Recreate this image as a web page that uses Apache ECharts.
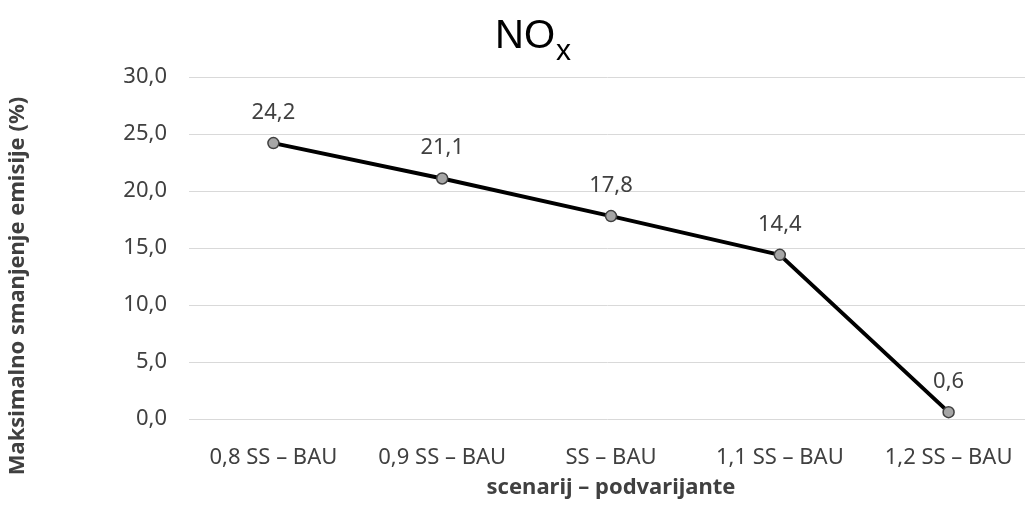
<!DOCTYPE html>
<html>
<head>
<meta charset="utf-8">
<script src="https://cdn.jsdelivr.net/npm/echarts@6/dist/echarts.min.js"></script>
<style>
  html, body { margin: 0; padding: 0; background: #fff; }
  #chart { width: 1025px; height: 509px; }
</style>
</head>
<body>
<div id="chart"></div>
<script>
var categories = ['0,8 SS – BAU', '0,9 SS – BAU', 'SS – BAU', '1,1 SS – BAU', '1,2 SS – BAU']
var noxValues = [24.2, 21.1, 17.8, 14.4, 0.6]
var yTicks = { min: 0, max: 30, interval: 5 }

var textColor = '#404040'
var font = 'Noto Sans'

function fmt(v) {
  return Number(v).toFixed(1).replace('.', ',')
}

var chart = echarts.init(document.getElementById('chart'))
chart.setOption({
  animation: false,
  title: {
    text: '{n|NO}{s|x}',
    left: 490,
    top: 12,
    textStyle: {
      fontWeight: 'normal',
      rich: {
        n: { fontFamily: 'Liberation Sans', fontSize: 40, fontWeight: 'normal', color: '#000', lineHeight: 50, verticalAlign: 'bottom', padding: [0, 0, 10, 0] },
        s: { fontFamily: 'Liberation Sans', fontSize: 30, fontWeight: 'normal', color: '#000', lineHeight: 30, verticalAlign: 'bottom', padding: [0, 0, 0, 1] }
      }
    }
  },
  grid: {
    left: 189,
    width: 844,
    top: 77,
    bottom: 90,
    outerBoundsMode: 'none'
  },
  graphic: [
    {
      type: 'text',
      x: 18,
      y: 286,
      rotation: Math.PI / 2,
      style: {
        text: 'Maksimalno smanjenje emisije (%)',
        fontFamily: font,
        fontWeight: 'bold',
        fontSize: 22,
        fill: textColor,
        align: 'center',
        verticalAlign: 'middle'
      }
    }
  ],
  xAxis: {
    type: 'category',
    data: categories,
    boundaryGap: true,
    axisLine: { show: false },
    axisTick: { show: false },
    axisLabel: {
      margin: 28,
      fontFamily: font,
      fontSize: 22,
      color: textColor
    },
    name: 'scenarij – podvarijante',
    nameLocation: 'middle',
    nameGap: 58,
    nameTextStyle: {
      fontFamily: font,
      fontWeight: 'bold',
      fontSize: 22,
      color: textColor
    }
  },
  yAxis: {
    type: 'value',
    min: yTicks.min,
    max: yTicks.max,
    interval: yTicks.interval,
    axisLine: { show: false },
    axisTick: { show: false },
    splitLine: { lineStyle: { color: '#d9d9d9', width: 1 } },
    axisLabel: {
      margin: 22,
      fontFamily: font,
      fontSize: 22,
      color: textColor,
      formatter: fmt
    }
  },
  series: [
    {
      type: 'line',
      data: noxValues,
      symbol: 'circle',
      symbolSize: 11,
      lineStyle: { color: '#000', width: 4 },
      itemStyle: { color: '#a6a6a6', borderColor: '#404040', borderWidth: 1.5 },
      label: {
        show: true,
        position: 'top',
        distance: 13,
        fontFamily: font,
        fontSize: 22,
        color: textColor,
        formatter: function (p) { return fmt(p.value) }
      }
    }
  ]
})
</script>
</body>
</html>
